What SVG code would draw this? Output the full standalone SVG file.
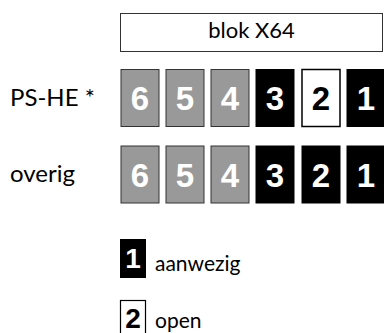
<svg xmlns="http://www.w3.org/2000/svg" width="384" height="333" viewBox="0 0 384 333">
<style>
.lbl{font-family:Lato,"Open Sans","Liberation Sans",sans-serif;fill:#000}
.num{font-family:"Liberation Sans",Arial,sans-serif;font-weight:bold;font-size:33px;text-anchor:middle}
.lnum{font-family:"Liberation Sans",Arial,sans-serif;font-weight:bold;font-size:28px;text-anchor:middle}
.g rect{fill:#999;stroke:#333;stroke-width:1}
.g text{fill:#fff}
.b rect{fill:#000;stroke:#000;stroke-width:1}
.b text{fill:#fff}
.w rect{fill:#fff;stroke:#000;stroke-width:1.5}
.w text{fill:#000}
</style>
<rect width="384" height="333" fill="#fff"/>
<g id="blok">
<rect x="120.5" y="13.5" width="262" height="38" fill="#fff" stroke="#333" stroke-width="1"/>
<text class="lbl" x="251.5" y="38" font-size="22" text-anchor="middle">blok X64</text>
</g>
<g id="label-pshe"><text class="lbl" x="10" y="106" font-size="24">PS-HE *</text></g>
<g id="label-overig"><text class="lbl" x="10" y="182" font-size="24">overig</text></g>
<g id="row1">
<g id="r1-6" class="g"><rect x="121" y="69.5" width="38" height="57"/><text class="num" x="140" y="110">6</text></g>
<g id="r1-5" class="g"><rect x="166" y="69.5" width="38" height="57"/><text class="num" x="185" y="110">5</text></g>
<g id="r1-4" class="g"><rect x="211" y="69.5" width="38" height="57"/><text class="num" x="230" y="110">4</text></g>
<g id="r1-3" class="b"><rect x="256" y="69.5" width="38" height="57"/><text class="num" x="275" y="110">3</text></g>
<g id="r1-2" class="w"><rect x="302" y="69.5" width="38" height="57"/><text class="num" x="321" y="110">2</text></g>
<g id="r1-1" class="b"><rect x="347" y="69.5" width="38" height="57"/><text class="num" x="366" y="110">1</text></g>
</g>
<g id="row2">
<g id="r2-6" class="g"><rect x="121" y="146" width="38" height="57"/><text class="num" x="140" y="186.5">6</text></g>
<g id="r2-5" class="g"><rect x="166" y="146" width="38" height="57"/><text class="num" x="185" y="186.5">5</text></g>
<g id="r2-4" class="g"><rect x="211" y="146" width="38" height="57"/><text class="num" x="230" y="186.5">4</text></g>
<g id="r2-3" class="b"><rect x="256" y="146" width="38" height="57"/><text class="num" x="275" y="186.5">3</text></g>
<g id="r2-2" class="b"><rect x="302" y="146" width="38" height="57"/><text class="num" x="321" y="186.5">2</text></g>
<g id="r2-1" class="b"><rect x="347" y="146" width="38" height="57"/><text class="num" x="366" y="186.5">1</text></g>
</g>
<g id="legend-aanwezig">
<rect x="120" y="239" width="26" height="39" fill="#000"/>
<text class="lnum" x="133" y="268" fill="#fff">1</text>
<text class="lbl" x="155" y="271" font-size="21">aanwezig</text>
</g>
<g id="legend-open">
<rect x="120.5" y="300.5" width="25" height="38" fill="#fff" stroke="#000" stroke-width="1.2"/>
<text class="lnum" x="133" y="328" fill="#000">2</text>
<text class="lbl" x="155" y="328" font-size="21">open</text>
</g>
</svg>
